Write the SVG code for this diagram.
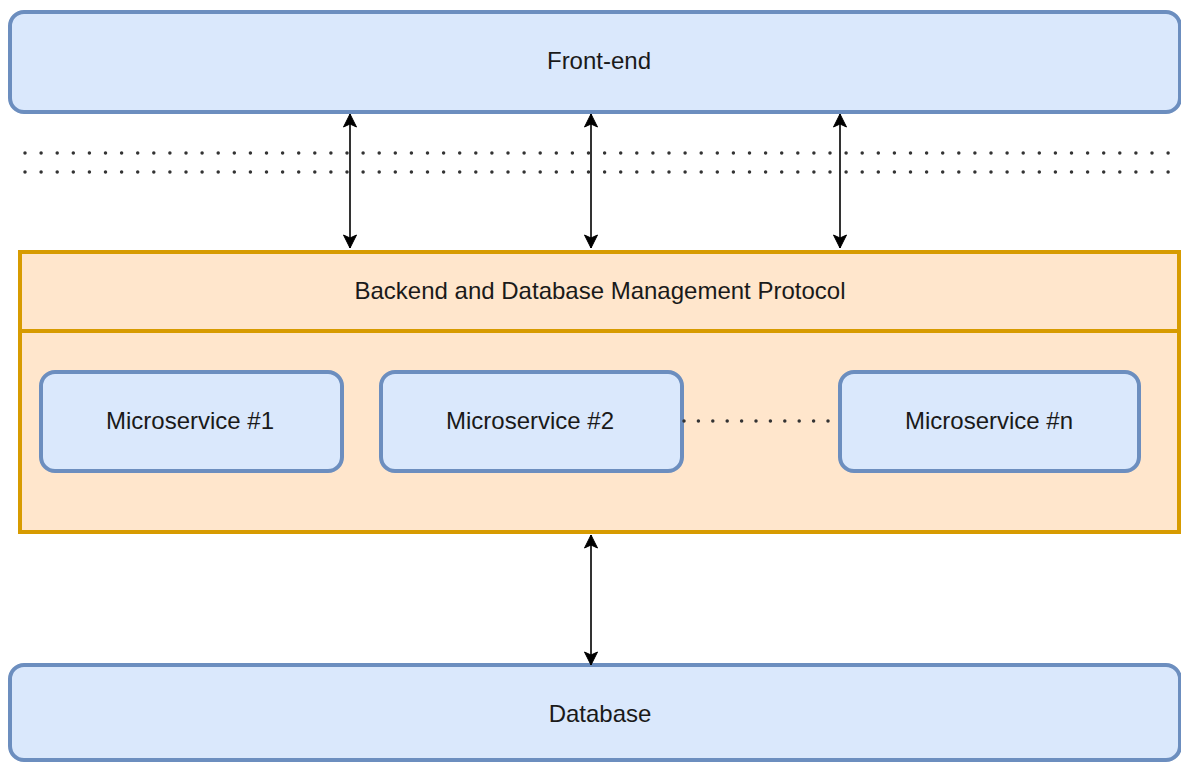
<svg xmlns="http://www.w3.org/2000/svg" width="1181" height="762" viewBox="0 0 1181 762">
<style>
.blue{fill:#dae8fc;stroke:#6c8ebf;stroke-width:4}
.orange{fill:#ffe6cc;stroke:#d79b00;stroke-width:4}
.lbl{font-family:"Liberation Sans",Arial,sans-serif;font-size:24px;fill:#1a1a1a;text-anchor:middle}
.dots{stroke:#333;stroke-width:3.5;stroke-linecap:round;fill:none}
.arrow{stroke:#333;stroke-width:2;fill:none;marker-start:url(#ah);marker-end:url(#ah)}
</style>
<defs>
<marker id="ah" viewBox="-14 -8 15 16" refX="0" refY="0" markerWidth="15" markerHeight="16" markerUnits="userSpaceOnUse" orient="auto-start-reverse">
<path d="M0,0 L-13,-6.5 L-10,0 L-13,6.5 Z" fill="#000" stroke="#000" stroke-width="1"/>
</marker>
</defs>
<rect width="1181" height="762" fill="#fff"/>
<g id="separator">
<line class="dots" x1="25" y1="153" x2="1181" y2="153" stroke-dasharray="0 16.1"/>
<line class="dots" x1="25" y1="172" x2="1181" y2="172" stroke-dasharray="0 16.1"/>
</g>
<g id="frontend">
<rect class="blue" x="10" y="12" width="1170" height="100" rx="14"/>
<text class="lbl" x="599" y="69">Front-end</text>
</g>
<g id="backend">
<rect class="orange" x="20" y="252" width="1159" height="280"/>
<line x1="20" y1="331" x2="1179" y2="331" stroke="#d79b00" stroke-width="4"/>
<text class="lbl" x="600" y="299">Backend and Database Management Protocol</text>
</g>
<g id="ms1">
<rect class="blue" x="41" y="372" width="301" height="99" rx="14"/>
<text class="lbl" x="190" y="429">Microservice #1</text>
</g>
<g id="ms2">
<rect class="blue" x="381" y="372" width="301" height="99" rx="14"/>
<text class="lbl" x="530" y="429">Microservice #2</text>
</g>
<g id="msn">
<rect class="blue" x="840" y="372" width="299" height="99" rx="14"/>
<text class="lbl" x="989" y="429">Microservice #n</text>
</g>
<g id="database">
<rect class="blue" x="10" y="665" width="1170" height="95" rx="14"/>
<text class="lbl" x="600" y="722">Database</text>
</g>
<g id="connectors">
<line class="arrow" x1="350" y1="114" x2="350" y2="248"/>
<line class="arrow" x1="591" y1="114" x2="591" y2="248"/>
<line class="arrow" x1="840" y1="114" x2="840" y2="248"/>
<line class="arrow" x1="591" y1="535" x2="591" y2="665"/>
<line class="dots" x1="684" y1="421" x2="830" y2="421" stroke-dasharray="0 14.4"/>
</g>
</svg>
